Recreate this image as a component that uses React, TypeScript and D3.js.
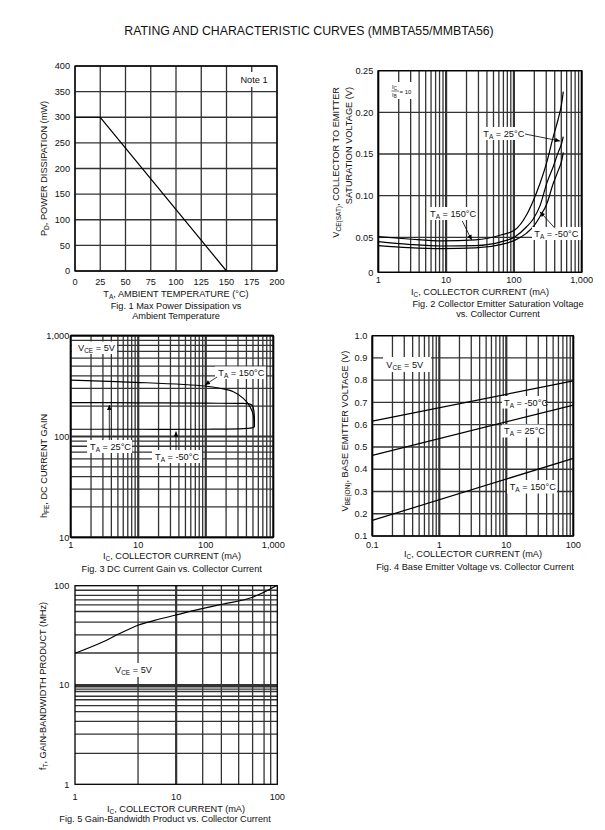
import React from "react";
import * as d3 from "d3";

const FONT = "'Liberation Sans', Arial, Helvetica, sans-serif";
const GRID = "#333";

// ---------------- DATA ----------------
const pageTitle = "RATING AND CHARACTERISTIC CURVES (MMBTA55/MMBTA56)";

// Fig. 1
const fig1XTicks = [0, 25, 50, 75, 100, 125, 150, 175, 200];
const fig1YTicks = [0, 50, 100, 150, 200, 250, 300, 350, 400];
const fig1Temperature = [0, 25, 150];
const fig1Power = [300, 300, 0];

// Fig. 2
const fig2XTicks = [1, 10, 100, 1000];
const fig2XTickLabels = ["1", "10", "100", "1,000"];
const fig2YTicks = [0, 0.05, 0.1, 0.15, 0.2, 0.25];
const fig2YTickLabels = ["0", "0.05", "0.10", "0.15", "0.20", "0.25"];
const fig2Current = [1, 2.8, 8.6, 27, 66, 104, 154, 193, 243, 305, 381, 450, 507, 535];
const fig2Vce150 = [0.0508, 0.0476, 0.0448, 0.0462, 0.053, 0.059, 0.077, 0.094, 0.1148, 0.14, 0.1708, 0.192, 0.2108, 0.2248];
const fig2Vce25 = [0.0438, 0.04, 0.0376, 0.0381, 0.0438, 0.0508, 0.0627, 0.072, 0.088, 0.1148, 0.135, 0.152, 0.163, 0.1708];
const fig2VceM50 = [0.0381, 0.0352, 0.0338, 0.0348, 0.04, 0.046, 0.055, 0.0627, 0.075, 0.09, 0.1148, 0.13, 0.142, 0.152];

// Fig. 3
const fig3XTicks = [1, 10, 100, 1000];
const fig3XTickLabels = ["1", "10", "100", "1,000"];
const fig3YTicks = [10, 100, 1000];
const fig3YTickLabels = ["10", "100", "1,000"];
const fig3Current150 = [1, 9, 97, 162, 256, 360, 452, 506, 522];
const fig3Hfe150 = [363, 345, 317, 301, 278, 239, 198, 163, 126];
const fig3Current25 = [1, 10, 100, 300, 440, 490, 515, 525, 524];
const fig3Hfe25 = [217, 216, 214, 213, 211, 203, 180, 150, 124];
const fig3CurrentM50 = [1, 10, 100, 300, 450, 524];
const fig3HfeM50 = [118, 118, 118, 119, 121, 124];

// Fig. 4
const fig4XTicks = [0.1, 1, 10, 100];
const fig4XTickLabels = ["0.1", "1", "10", "100"];
const fig4YTicks = [0.1, 0.2, 0.3, 0.4, 0.5, 0.6, 0.7, 0.8, 0.9, 1.0];
const fig4YTickLabels = ["0.1", "0.2", "0.3", "0.4", "0.5", "0.6", "0.7", "0.8", "0.9", "1.0"];
const fig4Current = [0.1, 100];
const fig4VbeM50 = [0.616, 0.797];
const fig4Vbe25 = [0.462, 0.688];
const fig4Vbe150 = [0.17, 0.449];

// Fig. 5
const fig5XTicks = [1, 10, 100];
const fig5XTickLabels = ["1", "10", "100"];
const fig5YTicks = [1, 10, 100];
const fig5YTickLabels = ["1", "10", "100"];
const fig5XGrid = [4.2, 10, 18.3, 28, 41.5, 57, 74, 86];
const fig5YGrid = [90, 80, 72, 64, 55, 43, 32, 21, 10, 9.6, 9.1, 8.6, 7.7, 7.1, 6.2, 5.4, 4.3, 3.2, 2.05];
const fig5Current = [1, 1.9, 2.8, 4.2, 6, 10, 18.5, 28.5, 58, 100];
const fig5Ft = [20.9, 27.3, 33.2, 40, 44.5, 50.7, 59, 65, 77, 101];

// ---------------- HELPERS ----------------
const isDecade = (v: number) => Math.abs(Math.log10(v) - Math.round(Math.log10(v))) < 1e-6;

function VGrid({ xs, sx, y0, y1, thick }: any) {
  return (
    <g>
      {xs.map((v: number, i: number) => (
        <line key={i} x1={sx(v)} x2={sx(v)} y1={y0} y2={y1} stroke={GRID}
          strokeWidth={thick && thick(v) ? 2.2 : 1.3} />
      ))}
    </g>
  );
}
function HGrid({ ys, sy, x0, x1, thick }: any) {
  return (
    <g>
      {ys.map((v: number, i: number) => (
        <line key={i} y1={sy(v)} y2={sy(v)} x1={x0} x2={x1} stroke={GRID}
          strokeWidth={thick && thick(v) ? 2.2 : 1.3} />
      ))}
    </g>
  );
}
function Frame({ x0, x1, y0, y1 }: any) {
  return <rect x={x0} y={y0} width={x1 - x0} height={y1 - y0} fill="none" stroke="#000" strokeWidth={1.3} />;
}
function XTicks({ vals, labels, sx, y }: any) {
  return (
    <g>
      {vals.map((v: number, i: number) => (
        <text key={i} x={sx(v)} y={y} textAnchor="middle" fontSize={9.2} fontFamily={FONT} fill="#111">
          {labels ? labels[i] : String(v)}
        </text>
      ))}
    </g>
  );
}
function YTicks({ vals, labels, sy, x }: any) {
  return (
    <g>
      {vals.map((v: number, i: number) => (
        <text key={i} x={x} y={sy(v)} dy="0.35em" textAnchor="end" fontSize={9.2} fontFamily={FONT} fill="#111">
          {labels ? labels[i] : String(v)}
        </text>
      ))}
    </g>
  );
}
function Box({ x, y, w, h }: any) {
  return <rect x={x} y={y} width={w} height={h} fill="#fff" />;
}
function TA({ x, y, t, anchor }: any) {
  return (
    <text x={x} y={y} fontSize={9.2} fontFamily={FONT} fill="#111" textAnchor={anchor || "start"}>
      T<tspan fontSize={6.5} dy={2}>A</tspan><tspan dy={-2}>{` = ${t}°C`}</tspan>
    </text>
  );
}
function VCE({ x, y }: any) {
  return (
    <text x={x} y={y} fontSize={9.2} fontFamily={FONT} fill="#111">
      V<tspan fontSize={6.5} dy={2}>CE</tspan><tspan dy={-2}>{" = 5V"}</tspan>
    </text>
  );
}
function Arrow({ x1, y1, x2, y2 }: any) {
  return <line x1={x1} y1={y1} x2={x2} y2={y2} stroke="#000" strokeWidth={0.8} markerEnd="url(#ah)" />;
}
function Caption({ x, y, lines }: any) {
  return (
    <g>
      {lines.map((l: string, i: number) => (
        <text key={i} x={x} y={y + i * 9.8} textAnchor="middle" fontSize={9.2} fontFamily={FONT} fill="#111">{l}</text>
      ))}
    </g>
  );
}
function ICLabel({ x, y }: any) {
  return (
    <text x={x} y={y} textAnchor="middle" fontSize={9.2} fontFamily={FONT} fill="#111">
      I<tspan fontSize={6.5} dy={2}>C</tspan><tspan dy={-2}>, COLLECTOR CURRENT (mA)</tspan>
    </text>
  );
}

function pathOf(xs: number[], ys: number[], sx: any, sy: any, curve: any) {
  const pts: [number, number][] = xs.map((x, i) => [sx(x), sy(ys[i])]);
  return d3.line().curve(curve)(pts) || "";
}

export default function App() {
  // Fig 1
  const f1 = { x0: 75, x1: 277, y0: 66, y1: 271 };
  const sx1 = d3.scaleLinear().domain([0, 200]).range([f1.x0, f1.x1]);
  const sy1 = d3.scaleLinear().domain([0, 400]).range([f1.y1, f1.y0]);

  // Fig 2
  const f2 = { x0: 378.3, x1: 581.7, y0: 70.7, y1: 272.3 };
  const sx2 = d3.scaleLog().domain([1, 1000]).range([f2.x0, f2.x1]);
  const sy2 = d3.scaleLinear().domain([0, 0.05, 0.25]).range([f2.y1, 237.3, f2.y0]);

  // Fig 3
  const f3 = { x0: 70.7, x1: 273.3, y0: 335.7, y1: 537.3 };
  const sx3 = d3.scaleLog().domain([1, 1000]).range([f3.x0, f3.x1]);
  const sy3 = d3.scaleLog().domain([10, 1000]).range([f3.y1, f3.y0]);

  // Fig 4
  const f4 = { x0: 372.3, x1: 573.3, y0: 335.7, y1: 536 };
  const sx4 = d3.scaleLog().domain([0.1, 100]).range([f4.x0, f4.x1]);
  const sy4 = d3.scaleLinear().domain([0.1, 1.0]).range([f4.y1, f4.y0]);

  // Fig 5
  const f5 = { x0: 75, x1: 277.3, y0: 585.7, y1: 784.3 };
  const sx5 = d3.scaleLog().domain([1, 100]).range([f5.x0, f5.x1]);
  const sy5 = d3.scaleLog().domain([1, 100]).range([f5.y1, f5.y0]);

  const smooth = d3.curveCatmullRom.alpha(0.5);

  return (
    <svg width={605} height={830} style={{ position: "absolute", left: 0, top: 0, background: "#fff" }}>
      <defs>
        <marker id="ah" viewBox="0 0 10 10" refX="10" refY="5" markerUnits="userSpaceOnUse"
          markerWidth={6} markerHeight={5} orient="auto">
          <path d="M0,0.5 L10,5 L0,9.5 z" fill="#000" />
        </marker>
      </defs>
      <rect x={0} y={0} width={605} height={830} fill="#fff" />

      <text x={309} y={35} textAnchor="middle" fontSize={12.3} fontFamily={FONT} fill="#111">{pageTitle}</text>

      {/* ---------- Fig 1 ---------- */}
      <g>
        <VGrid xs={fig1XTicks} sx={sx1} y0={f1.y0} y1={f1.y1} />
        <HGrid ys={fig1YTicks} sy={sy1} x0={f1.x0} x1={f1.x1} />
        <Box x={236} y={72} w={36} h={15} />
        <text x={254} y={83} textAnchor="middle" fontSize={9.2} fontFamily={FONT} fill="#111">Note 1</text>
        <Frame {...f1} />
        <path d={pathOf(fig1Temperature, fig1Power, sx1, sy1, d3.curveLinear)} fill="none" stroke="#000" strokeWidth={1.2} />
        <XTicks vals={fig1XTicks} sx={sx1} y={285} />
        <YTicks vals={fig1YTicks} sy={sy1} x={70} />
        <text transform="translate(46.5,168.5) rotate(-90)" textAnchor="middle" fontSize={9.2} fontFamily={FONT} fill="#111">
          P<tspan fontSize={6.5} dy={2}>D</tspan><tspan dy={-2}>, POWER DISSIPATION (mW)</tspan>
        </text>
        <text x={176} y={297.3} textAnchor="middle" fontSize={9.2} fontFamily={FONT} fill="#111">
          T<tspan fontSize={6.5} dy={2}>A</tspan><tspan dy={-2}>, AMBIENT TEMPERATURE (°C)</tspan>
        </text>
        <Caption x={176} y={309} lines={["Fig. 1 Max Power Dissipation vs", "Ambient Temperature"]} />
      </g>

      {/* ---------- Fig 2 ---------- */}
      <g>
        <VGrid xs={sx2.ticks()} sx={sx2} y0={f2.y0} y1={f2.y1} thick={isDecade} />
        <HGrid ys={fig2YTicks} sy={sy2} x0={f2.x0} x1={f2.x1} />
        <Frame {...f2} />
        <path d={pathOf(fig2Current, fig2Vce150, sx2, sy2, d3.curveMonotoneX)} fill="none" stroke="#000" strokeWidth={1.2} />
        <path d={pathOf(fig2Current, fig2Vce25, sx2, sy2, d3.curveMonotoneX)} fill="none" stroke="#000" strokeWidth={1.2} />
        <path d={pathOf(fig2Current, fig2VceM50, sx2, sy2, d3.curveMonotoneX)} fill="none" stroke="#000" strokeWidth={1.2} />
        {/* Ic / Ib = 10 */}
        <Box x={389} y={82} w={27} h={17} />
        <text x={392} y={89} fontSize={6} fontFamily={FONT} fill="#111">I<tspan fontSize={4.5} dy={1}>C</tspan></text>
        <line x1={391.5} x2={399} y1={91} y2={91} stroke="#111" strokeWidth={0.6} />
        <text x={392} y={97} fontSize={6} fontFamily={FONT} fill="#111">I<tspan fontSize={4.5} dy={1}>B</tspan></text>
        <text x={399.5} y={94} fontSize={6} fontFamily={FONT} fill="#111">= 10</text>
        {/* labels */}
        <Box x={482} y={127} w={42} h={13} />
        <TA x={483.3} y={136.5} t="25" />
        <Arrow x1={525} y1={134} x2={560} y2={141} />
        <Box x={428} y={207} w={48} h={13} />
        <TA x={430} y={216.5} t="150" />
        <Arrow x1={462.3} y1={221} x2={471.7} y2={240} />
        <Box x={532} y={227} w={49} h={13} />
        <TA x={534.3} y={236.5} t="-50" />
        <Arrow x1={555} y1={228.3} x2={540} y2={211.7} />
        <XTicks vals={fig2XTicks} labels={fig2XTickLabels} sx={sx2} y={282.7} />
        <YTicks vals={fig2YTicks} labels={fig2YTickLabels} sy={sy2} x={373.3} />
        <text transform="translate(338.5,87) rotate(-90)" textAnchor="end" fontSize={9.2} fontFamily={FONT} fill="#111">
          V<tspan fontSize={6.5} dy={2}>CE(SAT)</tspan><tspan dy={-2}>, COLLECTOR TO EMITTER</tspan>
        </text>
        <text transform="translate(351.5,87) rotate(-90)" textAnchor="end" fontSize={9.2} fontFamily={FONT} fill="#111">
          SATURATION VOLTAGE (V)
        </text>
        <ICLabel x={480} y={295} />
        <Caption x={498} y={307.3} lines={["Fig. 2 Collector Emitter Saturation Voltage", "vs. Collector Current"]} />
      </g>

      {/* ---------- Fig 3 ---------- */}
      <g>
        <VGrid xs={sx3.ticks()} sx={sx3} y0={f3.y0} y1={f3.y1} thick={isDecade} />
        <HGrid ys={sy3.ticks()} sy={sy3} x0={f3.x0} x1={f3.x1} thick={isDecade} />
        <Frame {...f3} />
        <path d={pathOf(fig3Current150, fig3Hfe150, sx3, sy3, smooth)} fill="none" stroke="#000" strokeWidth={1.2} />
        <path d={pathOf(fig3Current25, fig3Hfe25, sx3, sy3, smooth)} fill="none" stroke="#000" strokeWidth={1.2} />
        <path d={pathOf(fig3CurrentM50, fig3HfeM50, sx3, sy3, smooth)} fill="none" stroke="#000" strokeWidth={1.2} />
        <Box x={72} y={341.5} w={45} h={12.5} />
        <VCE x={78} y={351} />
        <Box x={215} y={366.5} w={51} h={12.5} />
        <TA x={218.3} y={375.8} t="150" />
        <Arrow x1={217} y1={377} x2={205} y2={385} />
        <Box x={87} y={440} w={45} h={13} />
        <TA x={90} y={449.5} t="25" />
        <Arrow x1={109.3} y1={440} x2={109.3} y2={405} />
        <Box x={152} y={450} w={50} h={13} />
        <TA x={155} y={459.5} t="-50" />
        <Arrow x1={176} y1={450} x2={176} y2={431.5} />
        <XTicks vals={fig3XTicks} labels={fig3XTickLabels} sx={sx3} y={548.3} />
        <YTicks vals={fig3YTicks} labels={fig3YTickLabels} sy={sy3} x={69.3} />
        <text transform="translate(46.5,466) rotate(-90)" textAnchor="middle" fontSize={9.2} fontFamily={FONT} fill="#111">
          h<tspan fontSize={6.5} dy={2}>FE</tspan><tspan dy={-2}>, DC CURRENT GAIN</tspan>
        </text>
        <ICLabel x={172} y={559} />
        <Caption x={171.7} y={571.7} lines={["Fig. 3 DC Current Gain vs. Collector Current"]} />
      </g>

      {/* ---------- Fig 4 ---------- */}
      <g>
        <VGrid xs={sx4.ticks()} sx={sx4} y0={f4.y0} y1={f4.y1} thick={isDecade} />
        <HGrid ys={fig4YTicks} sy={sy4} x0={f4.x0} x1={f4.x1} />
        <Frame {...f4} />
        <path d={pathOf(fig4Current, fig4VbeM50, sx4, sy4, d3.curveLinear)} fill="none" stroke="#000" strokeWidth={1.2} />
        <path d={pathOf(fig4Current, fig4Vbe25, sx4, sy4, d3.curveLinear)} fill="none" stroke="#000" strokeWidth={1.2} />
        <path d={pathOf(fig4Current, fig4Vbe150, sx4, sy4, d3.curveLinear)} fill="none" stroke="#000" strokeWidth={1.2} />
        <Box x={383} y={357} w={48} h={15} />
        <VCE x={386.3} y={367.5} />
        <Box x={502} y={396} w={43} h={12.5} />
        <TA x={504} y={405.5} t="-50" />
        <Box x={502} y={424.5} w={44} h={13} />
        <TA x={504} y={434.2} t="25" />
        <Box x={507} y={480} w={50} h={13.5} />
        <TA x={509.7} y={490} t="150" />
        <XTicks vals={fig4XTicks} labels={fig4XTickLabels} sx={sx4} y={547.7} />
        <YTicks vals={fig4YTicks} labels={fig4YTickLabels} sy={sy4} x={367.3} />
        <text transform="translate(348,431) rotate(-90)" textAnchor="middle" fontSize={9.2} fontFamily={FONT} fill="#111">
          V<tspan fontSize={6.5} dy={2}>BE(ON)</tspan><tspan dy={-2}>, BASE EMITTER VOLTAGE (V)</tspan>
        </text>
        <ICLabel x={473} y={557.3} />
        <Caption x={475} y={570} lines={["Fig. 4  Base Emitter Voltage vs. Collector Current"]} />
      </g>

      {/* ---------- Fig 5 ---------- */}
      <g>
        <VGrid xs={fig5XGrid} sx={sx5} y0={f5.y0} y1={f5.y1} thick={isDecade} />
        <HGrid ys={fig5YGrid} sy={sy5} x0={f5.x0} x1={f5.x1} thick={isDecade} />
        <Frame {...f5} />
        <path d={pathOf(fig5Current, fig5Ft, sx5, sy5, d3.curveMonotoneX)} fill="none" stroke="#000" strokeWidth={1.2} />
        <Box x={113} y={663} w={39} h={14} />
        <VCE x={115} y={672.5} />
        <XTicks vals={fig5XTicks} labels={fig5XTickLabels} sx={sx5} y={800} />
        <YTicks vals={fig5YTicks} labels={fig5YTickLabels} sy={sy5} x={69.3} />
        <text transform="translate(46,686) rotate(-90)" textAnchor="middle" fontSize={9.2} fontFamily={FONT} fill="#111">
          f<tspan fontSize={6.5} dy={2}>T</tspan><tspan dy={-2}>, GAIN-BANDWIDTH PRODUCT (MHz)</tspan>
        </text>
        <ICLabel x={176} y={811.7} />
        <Caption x={165} y={821.7} lines={["Fig. 5  Gain-Bandwidth Product vs. Collector Current"]} />
      </g>
    </svg>
  );
}
